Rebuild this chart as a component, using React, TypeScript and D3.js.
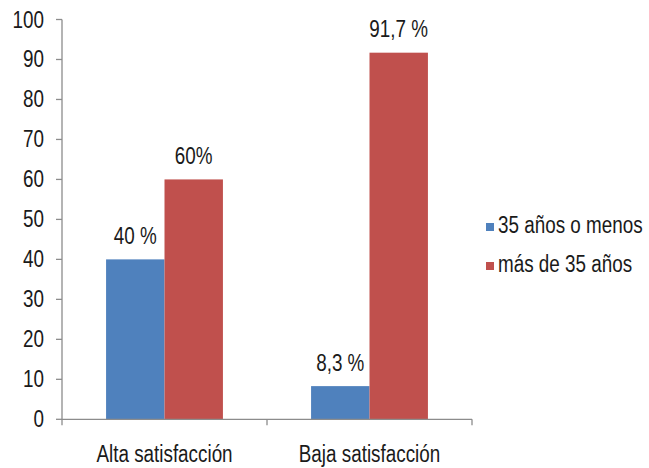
import React, { useRef, useEffect } from 'react'
import * as d3 from 'd3'

const categories = ['Alta satisfacción', 'Baja satisfacción']
const seriesNames = ['35 años o menos', 'más de 35 años']
const young = [40, 8.3]
const older = [60, 91.7]
const youngLabels = ['40 %', '8,3 %']
const olderLabels = ['60%', '91,7 %']
const yTicks = [0, 10, 20, 30, 40, 50, 60, 70, 80, 90, 100]
const colors = ['#4F81BD', '#C0504D']

const W = 649
const H = 468
const FONT = "'Liberation Sans', Arial, sans-serif"
const FS = 23
const SX = 0.82

export default function App() {
  const ref = useRef<SVGSVGElement>(null)

  useEffect(() => {
    const svg = d3.select(ref.current)
    svg.selectAll('*').remove()

    const left = 62, right = 472, top = 19.5, bottom = 419.3

    const x0 = d3.scaleBand().domain(categories).range([left, right]).paddingInner(0.43).paddingOuter(0.215)
    const x1 = d3.scaleBand().domain(seriesNames).range([0, x0.bandwidth()])
    const y = d3.scaleLinear().domain([0, 100]).range([bottom, top])

    const txt = (g, x, yy, s, anchor) =>
      g.append('text')
        .attr('transform', `translate(${x},${yy}) scale(${SX},1)`)
        .attr('text-anchor', anchor)
        .attr('font-family', FONT)
        .attr('font-size', FS)
        .attr('fill', '#1a1a1a')
        .text(s)

    // bars
    const rows = categories.map((c, i) => ({ c, vals: [young[i], older[i]], labels: [youngLabels[i], olderLabels[i]] }))
    rows.forEach(r => {
      r.vals.forEach((v, j) => {
        const bx = x0(r.c) + x1(seriesNames[j])
        svg.append('rect')
          .attr('x', bx)
          .attr('y', y(v))
          .attr('width', x1.bandwidth())
          .attr('height', y(0) - y(v))
          .attr('fill', colors[j])
        txt(svg, bx + x1.bandwidth() / 2, y(v) - 15.5, r.labels[j], 'middle')
      })
    })

    // y axis
    const axisColor = '#8c8c8c'
    svg.append('line').attr('x1', left).attr('x2', left).attr('y1', top).attr('y2', bottom)
      .attr('stroke', axisColor).attr('stroke-width', 1.3)
    yTicks.forEach(t => {
      svg.append('line').attr('x1', left - 6).attr('x2', left).attr('y1', y(t)).attr('y2', y(t))
        .attr('stroke', axisColor).attr('stroke-width', 1.3)
      txt(svg, 44, y(t) + 8, String(t), 'end')
    })

    // x axis
    svg.append('line').attr('x1', left).attr('x2', right).attr('y1', bottom).attr('y2', bottom)
      .attr('stroke', axisColor).attr('stroke-width', 1.3)
    const step = x0.step()
    d3.range(categories.length + 1).forEach(i => {
      const tx = left + i * step
      svg.append('line').attr('x1', tx).attr('x2', tx).attr('y1', bottom).attr('y2', bottom + 6)
        .attr('stroke', axisColor).attr('stroke-width', 1.3)
    })
    categories.forEach(c => {
      txt(svg, x0(c) + x0.bandwidth() / 2, 462, c, 'middle')
    })

    // legend
    seriesNames.forEach((s, i) => {
      const ly = 233 + i * 39
      svg.append('rect').attr('x', 486).attr('y', ly - 10).attr('width', 8).attr('height', 8).attr('fill', colors[i])
      txt(svg, 498, ly, s, 'start')
    })
  }, [])

  return (
    <svg
      ref={ref}
      width={W}
      height={H}
      style={{ position: 'absolute', left: 0, top: 0, background: '#fff' }}
    />
  )
}
